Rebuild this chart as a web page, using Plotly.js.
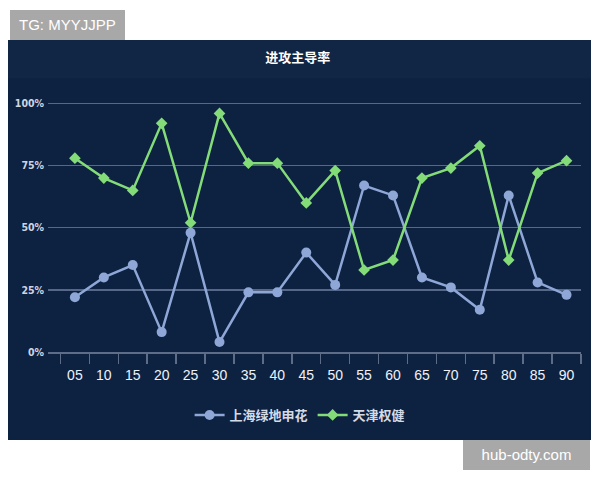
<!DOCTYPE html>
<html>
<head>
<meta charset="utf-8">
<script src="https://cdn.plot.ly/plotly-3.0.1.min.js"></script>
<style>
  body { margin: 0; background: #ffffff; width: 600px; height: 480px; position: relative; overflow: hidden; }
  #chart { position: absolute; left: 8px; top: 40px; width: 583px; height: 400px; }
  .mark { position: absolute; background: #a8a8a8; color: #ffffff; font-family: "Liberation Sans", Arial, sans-serif; font-size: 15px; line-height: 30px; padding: 0 9px; }
</style>
</head>
<body>
<div class="mark" style="left:10px; top:10px;">TG: MYYJJPP</div>
<div id="chart"></div>
<div class="mark" style="left:463px; top:440px; width:109px; text-align:center;">hub-odty.com</div>
<script>
// minutes
var minutes = ['05', '10', '15', '20', '25', '30', '35', '40', '45', '50', '55', '60', '65', '70', '75', '80', '85', '90']
// 上海绿地申花
var shenhua = [22, 30, 35, 8, 48, 4, 24, 24, 40, 27, 67, 63, 30, 26, 17, 63, 28, 23]
// 天津权健
var quanjian = [78, 70, 65, 92, 52, 96, 76, 76, 60, 73, 33, 37, 70, 74, 83, 37, 72, 77]
var yTicks = [0, 25, 50, 75, 100]

var fontCJK = '"Noto Sans CJK SC", "Liberation Sans", Arial, sans-serif'

var traceShenhua = {
  x: minutes,
  y: shenhua,
  name: '上海绿地申花',
  type: 'scatter',
  mode: 'lines+markers',
  cliponaxis: false,
  line: {color: '#8ea7d6', width: 2.5},
  marker: {symbol: 'circle', size: 10, color: '#8ea7d6'}
}

var traceQuanjian = {
  x: minutes,
  y: quanjian,
  name: '天津权健',
  type: 'scatter',
  mode: 'lines+markers',
  cliponaxis: false,
  line: {color: '#84dc78', width: 2.5},
  marker: {symbol: 'diamond', size: 9, color: '#84dc78'}
}

var layout = {
  width: 583,
  height: 400,
  paper_bgcolor: '#0d2141',
  plot_bgcolor: 'rgba(0,0,0,0)',
  margin: {l: 40, r: 10, t: 61, b: 84},
  title: {
    text: '<b>进攻主导率</b>',
    x: 0.497,
    xanchor: 'center',
    y: 0.957,
    yanchor: 'middle',
    font: {family: fontCJK, size: 13, color: '#ffffff'}
  },
  showlegend: true,
  legend: {
    orientation: 'h',
    x: 0.473,
    xanchor: 'center',
    y: -0.251,
    yanchor: 'middle',
    font: {family: fontCJK, size: 13, color: '#d3dbe7', weight: 'bold'},
    itemwidth: 30,
    tracegroupgap: 0
  },
  xaxis: {
    type: 'category',
    range: [-0.93, 17.5],
    tickson: 'boundaries',
    ticks: 'outside',
    ticklen: 10,
    tickwidth: 1.5,
    tickcolor: '#5d6d88',
    showline: true,
    linecolor: '#5d6d88',
    linewidth: 2,
    showgrid: false,
    zeroline: false,
    ticklabelstandoff: 9,
    tickfont: {family: '"Liberation Sans", Arial, sans-serif', size: 14, color: '#eef2f8'}
  },
  yaxis: {
    range: [0, 101],
    tickvals: yTicks,
    ticktext: yTicks.map(function (v) { return '<b>' + v + '%</b>' }),
    showgrid: true,
    gridcolor: '#56678a',
    gridwidth: 1.5,
    zeroline: false,
    showline: false,
    ticks: '',
    ticklabelstandoff: 3,
    tickfont: {family: '"DejaVu Sans Condensed", "Liberation Sans", sans-serif', size: 10.5, color: '#cdd5e1'}
  },
  shapes: [{
    type: 'rect',
    xref: 'paper', yref: 'paper',
    x0: -0.1, x1: 1.03, y0: 1.09, y1: 1.25,
    line: {width: 0},
    fillcolor: 'rgba(255,255,255,0.02)',
    layer: 'below'
  }]
}

Plotly.newPlot('chart', [traceShenhua, traceQuanjian], layout, {displayModeBar: false, staticPlot: true})
</script>
</body>
</html>
